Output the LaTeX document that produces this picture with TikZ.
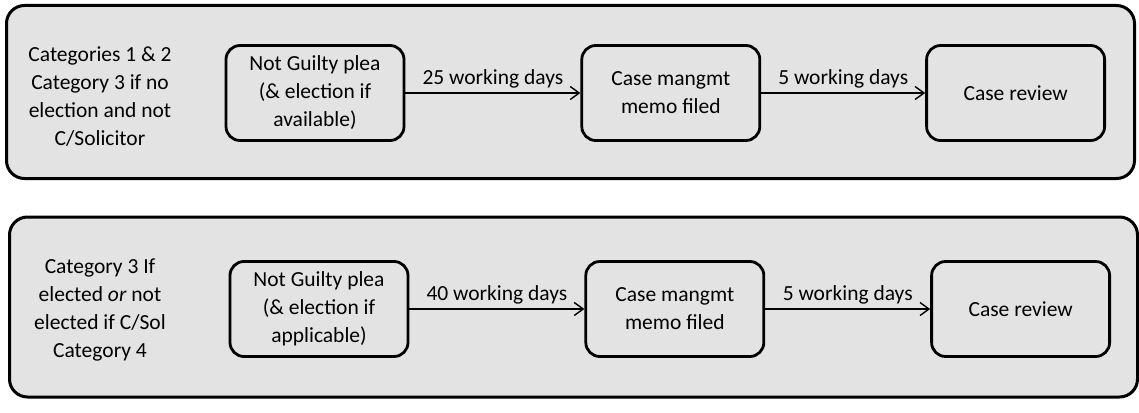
\documentclass[tikz,border=0pt]{standalone}
\usepackage{fontspec}
\setmainfont{Carlito}
\usetikzlibrary{positioning,arrows.meta}

\tikzset{
  lane/.style={draw, line width=3pt, rounded corners=18pt, fill=black!11, minimum width=1128pt, minimum height=173pt},
  stage/.style={draw, line width=2.8pt, rounded corners=14pt, fill=black!11, minimum width=178pt, minimum height=95pt, align=center, inner sep=2pt},
  cat/.style={align=center, inner sep=0pt},
  wait/.style={-{Straight Barb[length=9pt,width=13pt,line width=1.4pt]}, line width=2pt},
  days/.style={above=3pt, midway, inner sep=1pt},
}

\begin{document}
\begin{tikzpicture}[x=1pt, y=-1pt, font=\fontsize{21.5}{28}\selectfont]
\useasboundingbox (0,0) rectangle (1139,412);

% first lane
\node[lane] (lane1) at (570.5,92) {};
\node[cat] (cat1) at (100,97) {Categories 1 \& 2\\Category 3 if no\\election and not\\C/Solicitor};
\node[stage] (plea1) at (315,93) {Not Guilty plea\\(\& election if\\available)};
\node[stage, right=175pt of plea1] (memo1) {Case mangmt\\memo filed};
\node[stage, right=164pt of memo1] (review1) {Case review};

\draw[wait] (plea1) -- node[days] {25 working days} (memo1);
\draw[wait] (memo1) -- node[days] {5 working days} (review1);

% second lane
\node[lane, minimum height=180pt] (lane2) at (573.5,307) {};
\node[cat] (cat2) at (100,310) {Category 3 If\\elected \textit{or} not\\elected if C/Sol\\Category 4};
\node[stage] (plea2) at (319,309) {Not Guilty plea\\(\& election if\\applicable)};
\node[stage, right=175pt of plea2] (memo2) {Case mangmt\\memo filed};
\node[stage, right=165pt of memo2] (review2) {Case review};

\draw[wait] (plea2) -- node[days] {40 working days} (memo2);
\draw[wait] (memo2) -- node[days] {5 working days} (review2);
\end{tikzpicture}
\end{document}
